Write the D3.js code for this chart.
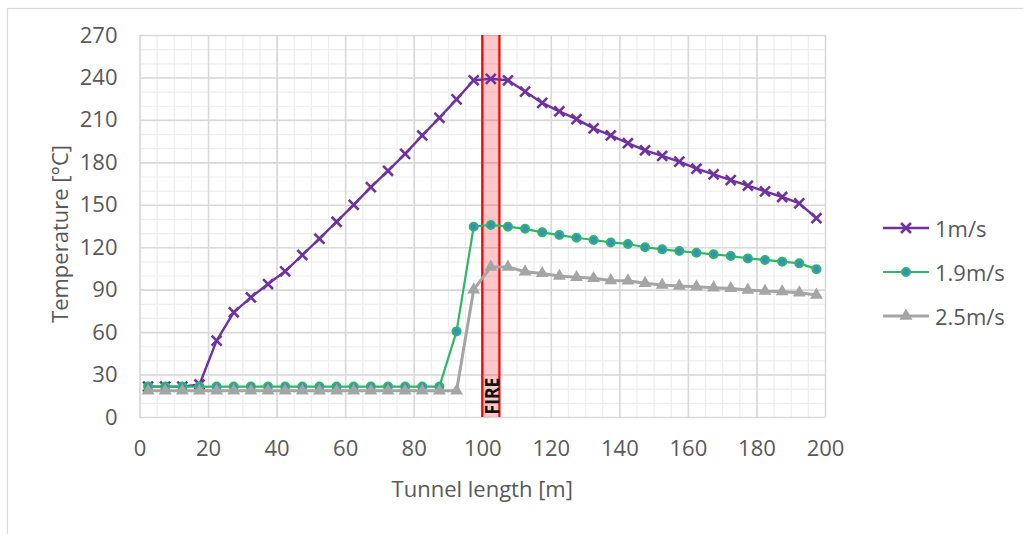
<!DOCTYPE html>
<html>
<head>
<meta charset="utf-8">
<script src="https://cdn.jsdelivr.net/npm/d3@7"></script>
<style>
  html, body { margin: 0; padding: 0; background: #fff; }
  svg { display: block; }
  text { font-family: "Open Sans", "Noto Sans", sans-serif; }
</style>
</head>
<body>
<svg id="chart" width="1023" height="534"></svg>
<script>
// ---- data ----
const positions = [2.5, 7.5, 12.5, 17.5, 22.5, 27.5, 32.5, 37.5, 42.5, 47.5,
  52.5, 57.5, 62.5, 67.5, 72.5, 77.5, 82.5, 87.5, 92.5, 97.5,
  102.5, 107.5, 112.5, 117.5, 122.5, 127.5, 132.5, 137.5, 142.5, 147.5,
  152.5, 157.5, 162.5, 167.5, 172.5, 177.5, 182.5, 187.5, 192.5, 197.5];
const seriesNames = ["1m/s", "1.9m/s", "2.5m/s"];
const temp1 = [21.5, 21.5, 21.5, 23, 54, 74, 84.5, 94, 103, 114.5,
  126, 138, 150, 162.5, 174, 186, 199, 211.5, 224.5, 238,
  239, 238, 230, 222, 216, 210.5, 204, 199, 193.5, 188.5,
  184.5, 180.5, 175.5, 171.5, 167.5, 163.5, 159.5, 155.5, 151, 140.5];
const temp19 = [21.5, 21.5, 21.5, 21.5, 21.5, 21.5, 21.5, 21.5, 21.5, 21.5,
  21.5, 21.5, 21.5, 21.5, 21.5, 21.5, 21.5, 21.5, 60.5, 134.5,
  135.7, 134.5, 133, 130.5, 128.6, 126.7, 125.1, 123.4, 122.3, 120,
  118.5, 117.3, 116.1, 115, 113.8, 112.1, 111, 109.8, 108.6, 104.5];
const temp25 = [18.5, 18.5, 18.5, 18.5, 18.5, 18.5, 18.5, 18.5, 18.5, 18.5,
  18.5, 18.5, 18.5, 18.5, 18.5, 18.5, 18.5, 18.5, 18.5, 90,
  106, 106, 102.7, 101.5, 99.6, 98.7, 98, 96.5, 96.3, 94.5,
  93.3, 92.6, 92.1, 91.4, 90.9, 89.8, 89, 88.6, 87.8, 86.2];
const xTicks = [0, 20, 40, 60, 80, 100, 120, 140, 160, 180, 200];
const yTicks = [0, 30, 60, 90, 120, 150, 180, 210, 240, 270];
const fireStart = 100, fireEnd = 105;
const fireLabel = "FIRE";
const xTitle = "Tunnel length [m]";
const yTitle = "Temperature [°C]";

// ---- layout ----
const svg = d3.select("#chart");
const L = 139.5, R = 825, T = 35, B = 417;
const x = d3.scaleLinear().domain([0, 200]).range([L, R]);
const y = d3.scaleLinear().domain([0, 270]).range([B, T]);

svg.append("rect").attr("width", 1023).attr("height", 534).attr("fill", "#fff");
svg.append("rect").attr("x", 7.5).attr("y", 8.5).attr("width", 1030).attr("height", 540)
  .attr("fill", "none").attr("stroke", "#d9d9d9").attr("stroke-width", 1.2);

// minor grid
const minorX = d3.range(0, 201, 5), minorY = d3.range(0, 271, 10);
svg.append("g").attr("transform", `translate(0,${B})`)
  .call(d3.axisBottom(x).tickValues(minorX).tickSize(-(B - T)).tickFormat(""))
  .call(g => g.select(".domain").remove())
  .call(g => g.selectAll("line").attr("stroke", "#eeeeee").attr("stroke-width", 1.2));
svg.append("g").attr("transform", `translate(${L},0)`)
  .call(d3.axisLeft(y).tickValues(minorY).tickSize(-(R - L)).tickFormat(""))
  .call(g => g.select(".domain").remove())
  .call(g => g.selectAll("line").attr("stroke", "#eeeeee").attr("stroke-width", 1.2));
// major grid
svg.append("g").attr("transform", `translate(0,${B})`)
  .call(d3.axisBottom(x).tickValues(xTicks).tickSize(-(B - T)).tickFormat(""))
  .call(g => g.select(".domain").remove())
  .call(g => g.selectAll("line").attr("stroke", "#d9d9d9").attr("stroke-width", 1.6));
svg.append("g").attr("transform", `translate(${L},0)`)
  .call(d3.axisLeft(y).tickValues(yTicks).tickSize(-(R - L)).tickFormat(""))
  .call(g => g.select(".domain").remove())
  .call(g => g.selectAll("line").attr("stroke", "#d9d9d9").attr("stroke-width", 1.6));

// tick labels
svg.append("g").attr("transform", `translate(0,${B})`)
  .call(d3.axisBottom(x).tickValues(xTicks).tickSize(0).tickPadding(22))
  .call(g => g.select(".domain").remove())
  .call(g => g.selectAll("text").attr("fill", "#595959").style("font-size", "22px")
    .attr("dy", "0.32em").attr("y", 32));
svg.append("g").attr("transform", `translate(${L},0)`)
  .call(d3.axisLeft(y).tickValues(yTicks).tickSize(0).tickPadding(22))
  .call(g => g.select(".domain").remove())
  .call(g => g.selectAll("text").attr("fill", "#595959").style("font-size", "22px"));

// axis titles
svg.append("text").attr("x", (L + R) / 2).attr("y", 491).attr("text-anchor", "middle")
  .attr("dominant-baseline", "middle").attr("fill", "#595959").style("font-size", "22px").text(xTitle);
svg.append("text").attr("transform", "translate(62,234) rotate(-90)").attr("text-anchor", "middle")
  .attr("dominant-baseline", "middle").attr("fill", "#595959").style("font-size", "22px").text(yTitle);

// fire band
const fx0 = x(fireStart), fx1 = x(fireEnd);
svg.append("rect").attr("x", fx0).attr("y", T).attr("width", fx1 - fx0).attr("height", B - T)
  .attr("fill", "rgba(255,0,0,0.22)");
[fx0, fx1].forEach(v => svg.append("line").attr("x1", v).attr("x2", v).attr("y1", T).attr("y2", B)
  .attr("stroke", "#ff0000").attr("stroke-width", 2.2));
svg.append("text").attr("transform", `translate(${(fx0 + fx1) / 2 + 1},396) rotate(-90)`)
  .attr("text-anchor", "middle").attr("dominant-baseline", "central")
  .attr("fill", "#111").style("font-size", "20px").style("font-weight", "bold")
  .attr("textLength", 37).attr("lengthAdjust", "spacingAndGlyphs").text(fireLabel);

// series
const series = [
  { name: seriesNames[0], values: temp1, color: "#7030a0", width: 2.4, marker: "x" },
  { name: seriesNames[1], values: temp19, color: "#2bb868", width: 2.2, marker: "circle" },
  { name: seriesNames[2], values: temp25, color: "#a5a5a5", width: 3, marker: "triangle" }
];
const line = d3.line().x(d => x(d[0])).y(d => y(d[1]));

function drawMarker(g, s) {
  if (s.marker === "x") {
    g.append("path").attr("d", d3.symbol(d3.symbolTimes, 66)())
      .attr("fill", "none").attr("stroke", s.color).attr("stroke-width", 2.6);
  } else if (s.marker === "circle") {
    g.append("circle").attr("r", 4).attr("fill", "#3b8dbf")
      .attr("stroke", s.color).attr("stroke-width", 2);
  } else {
    g.append("path").attr("d", d3.symbol(d3.symbolTriangle, 72)()).attr("fill", s.color);
  }
}

series.forEach(s => {
  const pts = positions.map((p, i) => [p, s.values[i]]);
  const g = svg.append("g");
  g.append("path").attr("d", line(pts)).attr("fill", "none")
    .attr("stroke", s.color).attr("stroke-width", s.width).attr("stroke-linejoin", "round");
  pts.forEach(d => {
    const m = g.append("g").attr("transform", `translate(${x(d[0])},${y(d[1])})`);
    drawMarker(m, s);
  });
});

// legend
const legendY = d3.scalePoint().domain(seriesNames).range([228, 316]);
series.forEach(s => {
  const ly = legendY(s.name);
  const g = svg.append("g");
  g.append("line").attr("x1", 883).attr("x2", 929).attr("y1", ly).attr("y2", ly)
    .attr("stroke", s.color).attr("stroke-width", s.width);
  const m = g.append("g").attr("transform", `translate(906,${ly})`);
  drawMarker(m, s);
  g.append("text").attr("x", 935).attr("y", ly).attr("dominant-baseline", "central")
    .attr("fill", "#595959").style("font-size", "22px").text(s.name);
});
</script>
</body>
</html>
